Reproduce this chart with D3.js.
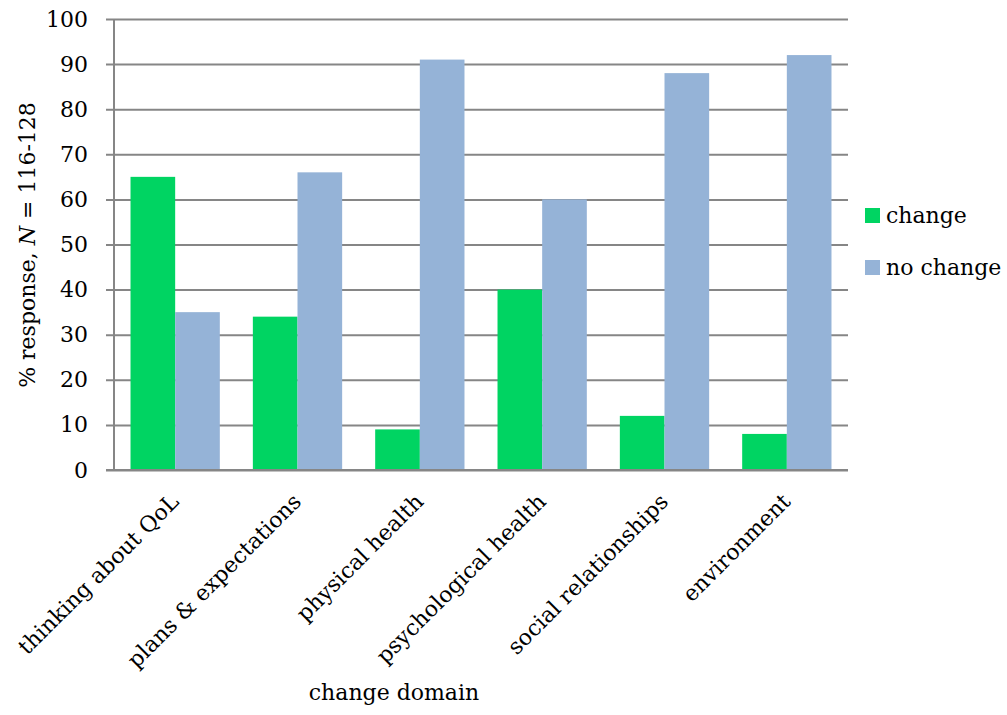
<!DOCTYPE html>
<html>
<head>
<meta charset="utf-8">
<script src="https://cdn.jsdelivr.net/npm/d3@7"></script>
<style>
  body { margin: 0; background: #fff; }
  text { font-family: "DejaVu Serif", serif; fill: #000; }
</style>
</head>
<body>
<div id="chart"></div>
<script>
(function(){

    // data
    var categories = ["thinking about QoL", "plans & expectations", "physical health",
                      "psychological health", "social relationships", "environment"];
    var seriesNames = ["change", "no change"];
    var changeValues = [65, 34, 9, 40, 12, 8];
    var noChangeValues = [35, 66, 91, 60, 88, 92];
    var yTicks = [0, 10, 20, 30, 40, 50, 60, 70, 80, 90, 100];

    var colors = ["#00d462", "#95b3d7"];
    var width = 1007, height = 715;
    var left = 114, right = 848, top = 19, bottom = 470;
    var fs = 22;

    var svg = d3.select("#chart").append("svg")
        .attr("width", width)
        .attr("height", height);

    var x0 = d3.scaleBand().domain(categories).range([left, right])
        .paddingInner(0.27).paddingOuter(0.135);
    var x1 = d3.scaleBand().domain(seriesNames).range([0, x0.bandwidth()]);
    var y = d3.scaleLinear().domain([0, 100]).range([bottom, top]);

    // gridlines + y ticks
    var yAxis = d3.axisLeft(y).tickValues(yTicks)
        .tickSize(-(right - left)).tickPadding(26);
    var gy = svg.append("g").attr("transform", "translate(" + left + ",0)").call(yAxis);
    gy.select(".domain").remove();
    gy.selectAll(".tick line").attr("stroke", "#868686").attr("stroke-width", 2)
        .attr("x1", -8);
    gy.selectAll(".tick text").attr("font-size", fs).attr("font-family", "DejaVu Serif").attr("fill", "#000");

    var rows = categories.map(function(c, i) {
        return { cat: c, vals: [changeValues[i], noChangeValues[i]] };
    });

    var groups = svg.selectAll("g.grp").data(rows).enter().append("g")
        .attr("class", "grp")
        .attr("transform", function(d) { return "translate(" + x0(d.cat) + ",0)"; });

    groups.selectAll("rect").data(function(d) {
            return d.vals.map(function(v, j) { return { s: seriesNames[j], v: v, j: j }; });
        })
        .enter().append("rect")
        .attr("x", function(d) { return x1(d.s); })
        .attr("y", function(d) { return y(d.v); })
        .attr("width", x1.bandwidth())
        .attr("height", function(d) { return bottom - y(d.v); })
        .attr("fill", function(d) { return colors[d.j]; });

    // axis lines
    svg.append("line").attr("x1", left).attr("x2", left).attr("y1", top).attr("y2", bottom)
        .attr("stroke", "#868686").attr("stroke-width", 2);
    svg.append("line").attr("x1", left - 8).attr("x2", right).attr("y1", bottom).attr("y2", bottom)
        .attr("stroke", "#868686").attr("stroke-width", 2);

    // category labels, rotated
    svg.selectAll("text.cat").data(categories).enter().append("text")
        .attr("class", "cat")
        .attr("font-size", fs)
        .attr("text-anchor", "end")
        .attr("transform", function(d) {
            var cx = x0(d) + x0.bandwidth() / 2 + 5;
            return "translate(" + cx + ",503) rotate(-45)";
        })
        .text(function(d) { return d; });

    // axis titles
    svg.append("text").attr("x", 394).attr("y", 700)
        .attr("text-anchor", "middle").attr("font-size", fs)
        .text("change domain");

    var yt = svg.append("text")
        .attr("transform", "translate(35,245) rotate(-90)")
        .attr("text-anchor", "middle").attr("font-size", fs);
    yt.append("tspan").text("% response, ");
    yt.append("tspan").attr("font-style", "italic").text("N");
    yt.append("tspan").text(" = 116-128");

    // legend
    var lg = svg.selectAll("g.lg").data(seriesNames).enter().append("g")
        .attr("class", "lg")
        .attr("transform", function(d, i) { return "translate(865," + (208 + i * 52) + ")"; });
    lg.append("rect").attr("width", 15).attr("height", 15)
        .attr("fill", function(d, i) { return colors[i]; });
    lg.append("text").attr("x", 21).attr("y", 15).attr("font-size", fs)
        .text(function(d) { return d; });

})();
</script>
</body>
</html>
